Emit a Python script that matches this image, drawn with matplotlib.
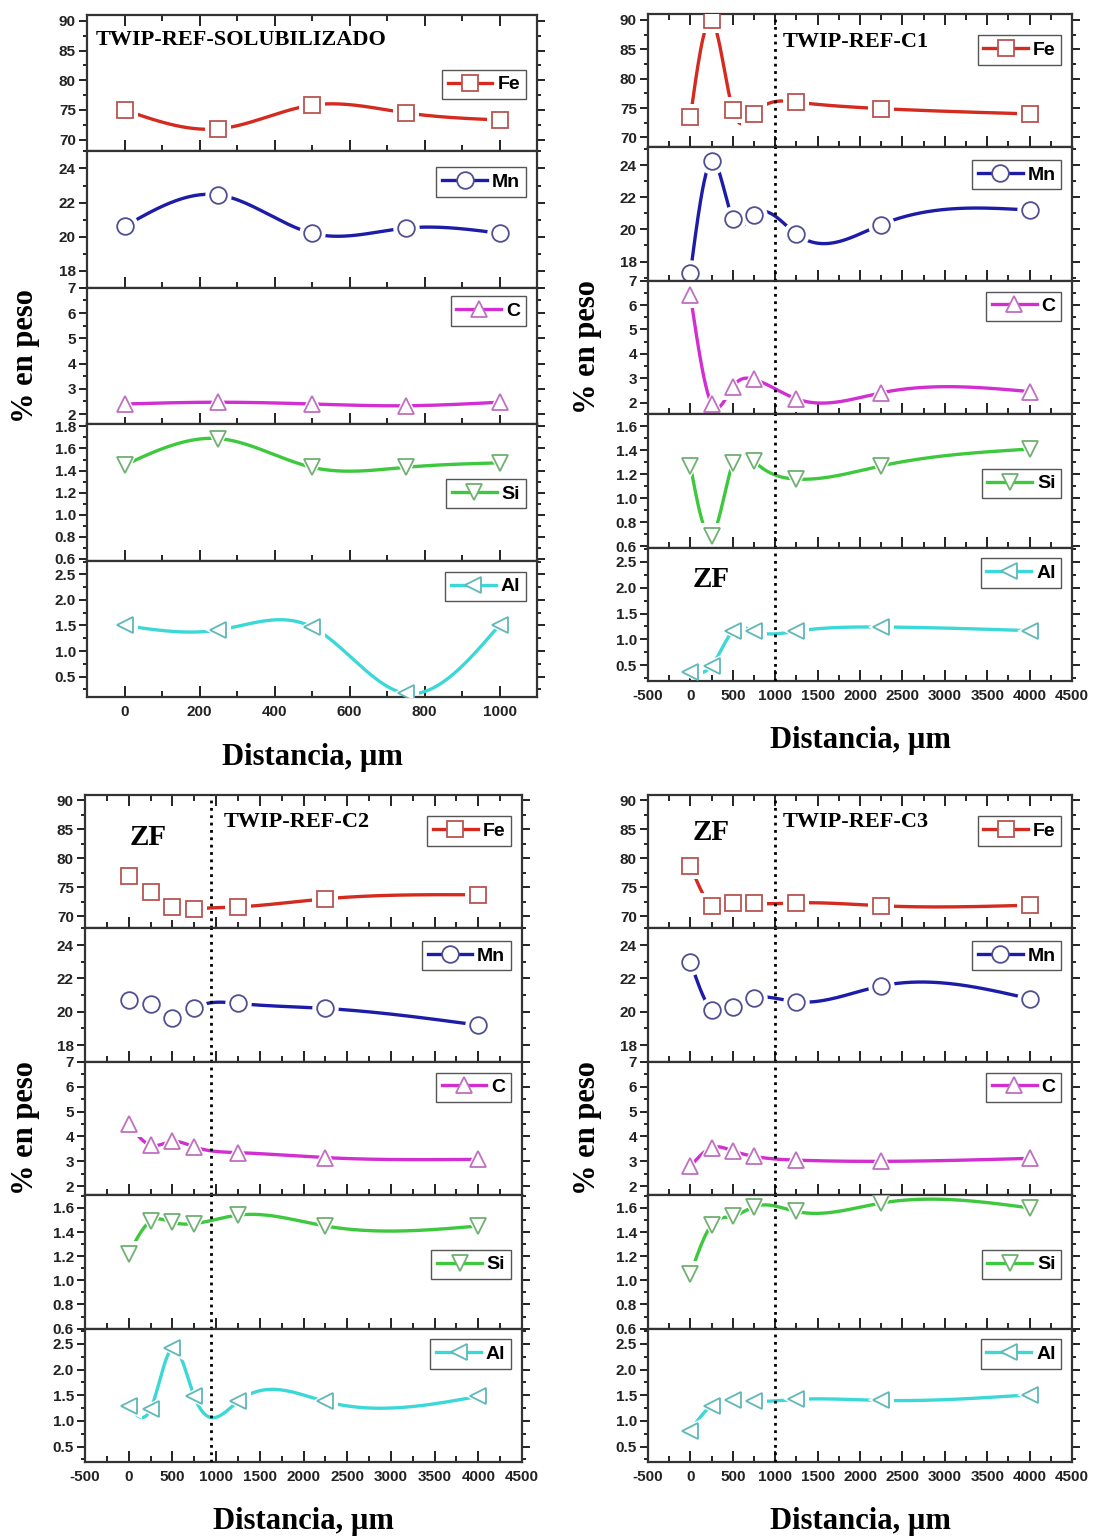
import numpy as np
import matplotlib
matplotlib.use('Agg')
import matplotlib.pyplot as plt
from matplotlib.lines import Line2D
from matplotlib.ticker import MultipleLocator

plt.rcParams['axes.unicode_minus'] = False

W, H = 1108, 1538

# ---------------- data (wt %) ----------------
x_sol = [0, 250, 500, 750, 1000]
fe_sol = [75.0, 71.8, 75.8, 74.5, 73.3]
mn_sol = [20.6, 22.45, 20.2, 20.5, 20.2]
c_sol = [2.4, 2.47, 2.4, 2.33, 2.47]
si_sol = [1.45, 1.69, 1.43, 1.43, 1.47]
al_sol = [1.50, 1.41, 1.47, 0.17, 1.51]

x_c = [0, 250, 500, 750, 1250, 2250, 4000]

fe_c1 = [73.5, 89.9, 74.7, 74.0, 76.0, 74.9, 74.0]
mn_c1 = [17.3, 24.25, 20.65, 20.9, 19.7, 20.3, 21.2]
c_c1 = [6.4, 1.95, 2.65, 2.95, 2.15, 2.4, 2.45]
si_c1 = [1.27, 0.69, 1.29, 1.31, 1.16, 1.27, 1.41]
al_c1 = [0.38, 0.49, 1.16, 1.16, 1.16, 1.24, 1.17]

fe_c2 = [77.0, 74.1, 71.6, 71.3, 71.6, 73.0, 73.7]
mn_c2 = [20.7, 20.45, 19.6, 20.2, 20.5, 20.2, 19.2]
c_c2 = [4.5, 3.65, 3.8, 3.58, 3.35, 3.15, 3.08]
si_c2 = [1.22, 1.49, 1.48, 1.47, 1.54, 1.45, 1.45]
al_c2 = [1.30, 1.23, 2.42, 1.48, 1.38, 1.38, 1.48]

fe_c3 = [78.7, 71.8, 72.3, 72.3, 72.3, 71.8, 71.9]
mn_c3 = [23.0, 20.1, 20.3, 20.85, 20.6, 21.55, 20.78]
c_c3 = [2.8, 3.55, 3.42, 3.2, 3.05, 3.0, 3.12]
si_c3 = [1.05, 1.46, 1.53, 1.61, 1.57, 1.64, 1.60]
al_c3 = [0.81, 1.30, 1.40, 1.38, 1.42, 1.40, 1.51]

elements = ['Fe', 'Mn', 'C', 'Si', 'Al']
markers = ['s', 'o', '^', 'v', '<']
line_colors = ['#d42a20', '#1c1ca8', '#d22fd2', '#3ec83e', '#3cd8d8']
edge_colors = ['#b85450', '#505090', '#c070c0', '#70b070', '#60b8b8']

tickfont = dict(family='Liberation Sans', weight='bold', size=11)
legfont = dict(family='Liberation Sans', weight='bold', size=14)
serif_bold = dict(family='Liberation Serif', weight='bold')


def smooth(x, y, n=400):
    # natural cubic spline, only used to draw the connecting curve
    x = np.asarray(x, float)
    y = np.asarray(y, float)
    k = len(x)
    h = np.diff(x)
    A = np.zeros((k, k))
    r = np.zeros(k)
    A[0, 0] = A[-1, -1] = 1
    for i in range(1, k - 1):
        A[i, i - 1] = h[i - 1]
        A[i, i] = 2 * (h[i - 1] + h[i])
        A[i, i + 1] = h[i]
        r[i] = 6 * ((y[i + 1] - y[i]) / h[i] - (y[i] - y[i - 1]) / h[i - 1])
    M = np.linalg.solve(A, r)
    xs = np.linspace(x[0], x[-1], n)
    j = np.clip(np.searchsorted(x, xs) - 1, 0, k - 2)
    t0 = x[j + 1] - xs
    t1 = xs - x[j]
    hj = h[j]
    ys = (M[j] * t0 ** 3 + M[j + 1] * t1 ** 3) / (6 * hj) \
        + (y[j] / hj - M[j] * hj / 6) * t0 + (y[j + 1] / hj - M[j + 1] * hj / 6) * t1
    return xs, ys


def draw_panel(fig, box, x, series, ylims, yticks, xlim, xmajor, legpos,
               title, title_pos, zf=None, vline=None, xlab_y=None, ylab_x=None):
    left, right, top, bottom = box
    hstep = (bottom - top) / 5.0
    axes = []
    for i in range(5):
        t = top + i * hstep
        ax = fig.add_axes([left / W, 1 - (t + hstep) / H, (right - left) / W, hstep / H])
        axes.append(ax)
        y = series[i]
        xs, ys = smooth(x, y)
        ax.plot(xs, ys, color=line_colors[i], lw=2.4, zorder=2, solid_capstyle='butt')
        # white halo = gap between curve and symbol
        ax.plot(x, y, linestyle='none', marker=markers[i], ms=19, mfc='white', mec='white',
                mew=0, zorder=2.2)
        ax.plot(x, y, linestyle='none', marker=markers[i], ms=12, mfc='white',
                mec=edge_colors[i], mew=1.3, zorder=3)
        ax.set_xlim(xlim)
        ax.set_ylim(ylims[i])
        ax.yaxis.set_major_locator(MultipleLocator(yticks[i]))
        ax.yaxis.set_minor_locator(MultipleLocator(yticks[i] / 2.0))
        ax.xaxis.set_major_locator(MultipleLocator(xmajor))
        ax.xaxis.set_minor_locator(MultipleLocator(xmajor / 2.0))
        ax.tick_params(axis='y', which='major', direction='out', left=True, right=True,
                       length=6, width=1.4, pad=2, colors='#222222')
        ax.tick_params(axis='y', which='minor', direction='out', left=True, right=True,
                       length=3, width=1.2)
        ax.tick_params(axis='x', which='major', direction='in', bottom=True, top=(i == 0),
                       length=8, width=1.4, pad=6, colors='#222222')
        ax.tick_params(axis='x', which='minor', direction='in', bottom=True, top=(i == 0),
                       length=4, width=1.2)
        for lab in ax.get_yticklabels():
            lab.set(**tickfont)
        if i < 4:
            ax.set_xticklabels([])
        else:
            for lab in ax.get_xticklabels():
                lab.set(**tickfont)
        for s in ax.spines.values():
            s.set_linewidth(1.6)
            s.set_color('#333333')
        handle = Line2D([], [], color=line_colors[i], lw=2.4, marker=markers[i], ms=12,
                        mfc='white', mec=edge_colors[i], mew=1.3)
        leg = ax.legend([handle], [elements[i]], loc='center right',
                        bbox_to_anchor=(0.975, legpos[i]), prop=legfont, frameon=True,
                        fancybox=False, edgecolor='#555555', framealpha=1,
                        handlelength=2.3, handletextpad=0.25, borderpad=0.3,
                        borderaxespad=0)
        leg.get_frame().set_linewidth(1.0)
        if vline is not None:
            ax.axvline(vline, color='black', linestyle=':', lw=2, zorder=10)

    axes[0].text(title_pos[0], title_pos[1], title, transform=axes[0].transAxes,
                 ha=title_pos[2], va='center', fontsize=16, **serif_bold)
    if zf is not None:
        axes[zf[0]].text(zf[1], zf[2], 'ZF', transform=axes[zf[0]].transAxes,
                         ha='center', va='center', fontsize=21, **serif_bold)
    fig.text((left + right) / 2.0 / W, 1 - xlab_y / H, 'Distancia, \u00b5m',
             ha='center', va='center', fontsize=22, **serif_bold)
    fig.text(ylab_x / W, 1 - (top + bottom) / 2.0 / H, '% en peso', rotation=90,
             ha='center', va='center', fontsize=22, **serif_bold)
    return axes


fig = plt.figure(figsize=(W / 100.0, H / 100.0), dpi=100)

yt = [5, 2, 1, 0.2, 0.5]

draw_panel(fig, (87, 537, 15, 697), x_sol, [fe_sol, mn_sol, c_sol, si_sol, al_sol],
           [(68, 91), (17, 25), (1.6, 7), (0.585, 1.82), (0.1, 2.77)], yt,
           (-100, 1100), 200, [0.49, 0.775, 0.83, 0.49, 0.81],
           'TWIP-REF-SOLUBILIZADO', (0.02, 0.82, 'left'),
           xlab_y=757, ylab_x=25)

draw_panel(fig, (648, 1072, 14, 681), x_c, [fe_c1, mn_c1, c_c1, si_c1, al_c1],
           [(68.3, 91), (16.8, 25.1), (1.52, 7), (0.59, 1.70), (0.2, 2.77)], yt,
           (-500, 4500), 500, [0.73, 0.795, 0.81, 0.48, 0.81],
           'TWIP-REF-C1', (0.49, 0.79, 'center'), zf=(4, 0.149, 0.76), vline=1000,
           xlab_y=740, ylab_x=588)

draw_panel(fig, (85, 522, 795, 1462), x_c, [fe_c2, mn_c2, c_c2, si_c2, al_c2],
           [(67.9, 90.9), (17, 25), (1.64, 7), (0.6, 1.705), (0.2, 2.8)], yt,
           (-500, 4500), 500, [0.73, 0.795, 0.81, 0.48, 0.81],
           'TWIP-REF-C2', (0.484, 0.80, 'center'), zf=(0, 0.145, 0.68), vline=940,
           xlab_y=1521, ylab_x=25)

draw_panel(fig, (648, 1072, 795, 1462), x_c, [fe_c3, mn_c3, c_c3, si_c3, al_c3],
           [(67.9, 90.9), (17, 25), (1.64, 7), (0.6, 1.705), (0.2, 2.8)], yt,
           (-500, 4500), 500, [0.73, 0.795, 0.81, 0.48, 0.81],
           'TWIP-REF-C3', (0.49, 0.80, 'center'), zf=(0, 0.149, 0.72), vline=1000,
           xlab_y=1521, ylab_x=588)

fig.savefig('out.png', dpi=100)
